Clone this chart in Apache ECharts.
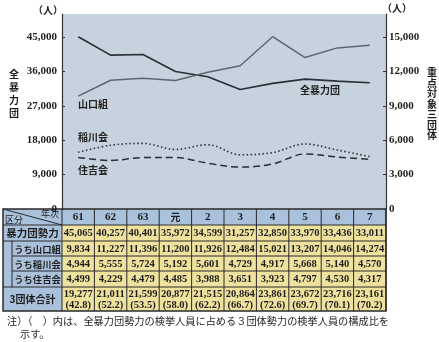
<!DOCTYPE html>
<html><head><meta charset="utf-8">
<script src="https://cdn.jsdelivr.net/npm/echarts@6/dist/echarts.min.js"></script>
<style>html,body{margin:0;padding:0;background:#fff}#c{width:439px;height:342px}</style>
</head><body><div id="c"></div>
<script>
const years = ['61','62','63','元','2','3','4','5','6','7'];
const allGangs = [45065,40257,40401,35972,34599,31257,32850,33970,33436,33011];
const yamaguchi = [9834,11227,11396,11200,11926,12484,15021,13207,14046,14274];
const inagawa = [4944,5555,5724,5192,5601,4729,4917,5668,5140,4570];
const sumiyoshi = [4499,4229,4479,4485,3988,3651,3923,4797,4530,4317];
const total3 = [19277,21011,21599,20877,21515,20864,23861,23672,23716,23161];
const ratio = ['42.8','52.2','53.5','58.0','62.2','66.7','72.6','69.7','70.1','70.2'];
const rowLabels = ['暴力団勢力','うち山口組','うち稲川会','うち住吉会','3団体合計'];
const leftTicks = {min:0, max:51000, interval:9000};
const rightTicks = {min:0, max:17000, interval:3000};

const fmt = v => v.toLocaleString('en-US');
const NUM = '"Liberation Serif", "DejaVu Serif", serif';
const JP = '"Noto Sans CJK JP", sans-serif';
const chart = echarts.init(document.getElementById('c'), null, {renderer:'canvas'});

const axisCommon = {
  splitLine:{show:false},
  axisLine:{show:true, lineStyle:{color:'#333', width:1.2}},
  axisTick:{show:true, length:3, inside:true, lineStyle:{color:'#333'}},
  axisLabel:{showMaxLabel:false, color:'#222', fontFamily:NUM, fontSize:11, fontWeight:'bold', formatter:v=>fmt(v)}
};

chart.setOption({
  animation:false,
  grid:{left:62, right:53, top:14, bottom:133, show:true, backgroundColor:'#c6d2dd', borderWidth:0},
  xAxis:{type:'category', data:years, boundaryGap:true, axisLine:{show:false}, axisTick:{show:false}, axisLabel:{show:false}},
  yAxis:[
    Object.assign({type:'value', position:'left'}, leftTicks, axisCommon, {axisLabel:Object.assign({}, axisCommon.axisLabel, {margin:5})}),
    Object.assign({type:'value', position:'right'}, rightTicks, axisCommon, {axisLabel:Object.assign({}, axisCommon.axisLabel, {margin:3})})
  ],
  series:[
    {type:'line', name:'全暴力団', data:allGangs, yAxisIndex:0, symbol:'none', lineStyle:{color:'#2a2e36', width:1.6}},
    {type:'line', name:'山口組', data:yamaguchi, yAxisIndex:1, symbol:'none', lineStyle:{color:'#5f656e', width:1.5}},
    {type:'line', name:'稲川会', data:inagawa, yAxisIndex:1, symbol:'none', smooth:0.35, lineStyle:{color:'#2a2e36', width:1.6, type:[1.5,2.5]}},
    {type:'line', name:'住吉会', data:sumiyoshi, yAxisIndex:1, symbol:'none', smooth:0.35, lineStyle:{color:'#2a2e36', width:1.5, type:[7,4]}}
  ]
});

function buildGraphic(){
  const xs = years.map((_, i) => chart.convertToPixel({xAxisIndex:0}, i));
  const bw = xs[1] - xs[0];
  const L = 3, C = xs[0] - bw/2, R = xs[xs.length-1] + bw/2, SUB = 12;
  const ys = [209, 225, 241, 256, 271, 287, 311];
  const g = [];
  const line = (x1,y1,x2,y2,w) => g.push({type:'line', shape:{x1,y1,x2,y2}, style:{stroke:'#2a2a2a', lineWidth:w||1}, silent:true});
  const txt = (x,y,text,opt) => g.push({type:'text', x, y, style:Object.assign({text, fill:'#1e1e1e', align:'center', verticalAlign:'middle', fontSize:10.5, fontFamily:NUM, fontWeight:'bold'}, opt||{}), silent:true});

  g.push({type:'rect', shape:{x:L, y:ys[0], width:R-L, height:ys[1]-ys[0]}, style:{fill:'#a9c1db'}, silent:true});
  g.push({type:'rect', shape:{x:L, y:ys[1], width:C-L, height:ys[6]-ys[1]}, style:{fill:'#a9c1db'}, silent:true});
  g.push({type:'rect', shape:{x:C, y:ys[1], width:R-C, height:ys[6]-ys[1]}, style:{fill:'#eee29e'}, silent:true});

  [ys[1], ys[2], ys[5]].forEach(y => line(L, y, R, y));
  [ys[3], ys[4]].forEach(y => line(SUB, y, R, y));
  line(SUB, ys[2], SUB, ys[5]);
  for (let i = 0; i <= years.length; i++) { const x = C + i*bw; line(x, ys[0], x, ys[6]); }
  g.push({type:'rect', shape:{x:L, y:ys[0], width:R-L, height:ys[6]-ys[0]}, style:{fill:'none', stroke:'#2a2a2a', lineWidth:1.5}, silent:true});
  line(L, ys[0], C, ys[1]);
  txt(L+2, ys[1]-5, '区分', {align:'left', fontFamily:JP, fontSize:9, fontWeight:'normal'});
  txt(C-3, ys[0]+5, '年次', {align:'right', fontFamily:JP, fontSize:9, fontWeight:'normal'});

  years.forEach((y, i) => txt(xs[i], (ys[0]+ys[1])/2+0.5, y, {fontFamily: y === '元' ? JP : NUM, fontSize: y === '元' ? 10 : 11}));

  const rows = [allGangs, yamaguchi, inagawa, sumiyoshi];
  rows.forEach((arr, r) => {
    const cy = (ys[r+1] + ys[r+2]) / 2 + 0.5;
    arr.forEach((v, i) => txt(xs[i], cy, fmt(v)));
    const lx = r === 0 ? (L + C)/2 : (SUB + C)/2 + 0.5;
    txt(lx, cy, rowLabels[r], {fontFamily:JP, fontSize: r === 0 ? 10.5 : 9.3, fontWeight:'bold'});
  });
  total3.forEach((v, i) => {
    txt(xs[i], ys[5]+7, fmt(v));
    txt(xs[i], ys[5]+18, '(' + ratio[i] + ')');
  });
  txt((L + C)/2, (ys[5]+ys[6])/2, rowLabels[4], {fontFamily:JP, fontSize:10, fontWeight:'bold'});

  txt(48, 10, '（人）', {fontFamily:JP, fontSize:10, fontWeight:'bold'});
  txt(397, 8, '（人）', {fontFamily:JP, fontSize:10, fontWeight:'bold'});
  txt(14, 94, '全\n暴\n力\n団', {fontFamily:JP, fontSize:10, lineHeight:13, fontWeight:'bold'});
  txt(432, 104, '重\n点\n対\n象\n三\n団\n体', {fontFamily:JP, fontSize:10, lineHeight:10.5, fontWeight:'bold'});

  const lbl = {fontFamily:JP, fontSize:10, fontWeight:'bold', align:'left', fill:'#222'};
  txt(78, 104, '山口組', lbl);
  txt(300, 90, '全暴力団', lbl);
  txt(78, 137, '稲川会', lbl);
  txt(78, 170, '住吉会', lbl);

  txt(7, 321, '注）（　）内は、全暴力団勢力の検挙人員に占める３団体勢力の検挙人員の構成比を', {fontFamily:JP, fontSize:10.2, fontWeight:'normal', align:'left'});
  txt(20, 334, '示す。', {fontFamily:JP, fontSize:10.2, fontWeight:'normal', align:'left'});

  chart.setOption({graphic:{elements:g}});
}
buildGraphic();
</script></body></html>
